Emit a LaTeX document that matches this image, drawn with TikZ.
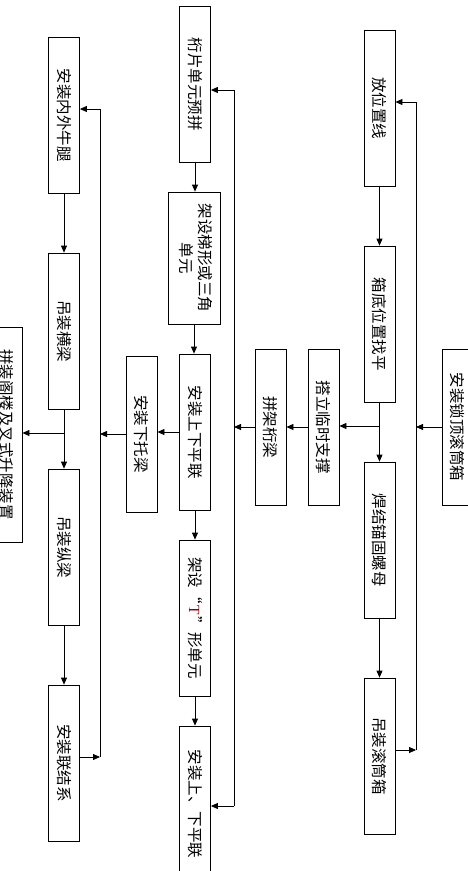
\documentclass[tikz,border=0pt]{standalone}
\usepackage{fontspec}
\setmainfont{Noto Sans CJK SC}
\newfontfamily\latinserif{Liberation Serif}
\usetikzlibrary{arrows.meta}
\newcommand{\vtext}[1]{\rotatebox{-90}{#1}}

\begin{document}
\begin{tikzpicture}[x=1pt,y=-1pt,>={Triangle[length=7pt,width=6pt]},line width=0.8pt,
  stepbox/.style={draw,line width=0.8pt,minimum width=31pt,minimum height=156pt,inner sep=0pt,
    font=\fontsize{15.5}{17.5}\selectfont}]

\useasboundingbox (0,0) rectangle (467,871);

%first column (right)
\node[stepbox] (fwzx) at (379.5,108) {\vtext{放位置线}};
\node[stepbox] (xdzp) at (379.5,324) {\vtext{箱底位置找平}};
\node[stepbox] (hjlm) at (379.5,540) {\vtext{焊结锚固螺母}};
\node[stepbox] (dzgx) at (379.5,756) {\vtext{吊装滚筒箱}};
\node[stepbox] (azsd) at (457.5,427) {\vtext{安装锁顶滚筒箱}};

%temporary support and truss
\node[stepbox] (dlzc) at (323.5,427) {\vtext{搭立临时支撑}};
\node[stepbox] (pjhl) at (270.5,427) {\vtext{拼架桁梁}};

%second column
\node[stepbox] (hpyp) at (195,84) {\vtext{桁片单元预拼}};
\node[stepbox,minimum width=52pt,minimum height=132pt] (jstx) at (194,258)
  {\vtext{\begin{tabular}{@{}c@{}}架设梯形或三角\\单元\end{tabular}}};
\node[stepbox] (azpl) at (195,432) {\vtext{安装上下平联}};
\node[stepbox] (jsdy) at (195,618) {\vtext{架设“\hspace{0.15em}{\latinserif\color{red!55!black}T}\hspace{0.1em}”形单元}};
\node[stepbox] (azpx) at (195,804) {\vtext{安装上、下平联}};
\node[stepbox] (axtl) at (141.5,434) {\vtext{安装下托梁}};

%third column (left)
\node[stepbox] (nwnt) at (64,115) {\vtext{安装内外牛腿}};
\node[stepbox] (dzhl) at (64,331) {\vtext{吊装横梁}};
\node[stepbox] (dzzl) at (64,547) {\vtext{吊装纵梁}};
\node[stepbox] (azlj) at (64,763) {\vtext{安装联结系}};
\node[stepbox,minimum height=215pt] (pjgl) at (6.5,434.5) {\vtext{拼装阁楼及叉式升降装置}};

%return lines
\coordinate (aT) at (416,102);
\coordinate (aB) at (416,750);
\coordinate (bT) at (234,90);
\coordinate (bB) at (234,806);
\coordinate (cT) at (100,109);
\coordinate (cB) at (100,757);
\coordinate (j1) at (379.5,426);
\coordinate (j2) at (64,433);

%arrows of first column
\draw[->] (fwzx) -- (xdzp);
\draw (xdzp) -- (j1);
\draw[->] (j1) -- (hjlm);
\draw[->] (hjlm) -- (dzgx);
\draw[->] (j1) -- (j1 -| dlzc.east);
\draw[->] (dlzc) -- (pjhl);
\draw[->] (pjhl.west) -- (pjhl.west -| bT);
\draw[->] (dzgx.east |- aB) -- (aB);
\draw[->] (aB) -- (aT) -- (aT -| fwzx.east);
\draw[->] (azsd.west) -- (azsd.west -| aT);

%arrows of second column
\draw[->] (hpyp.south) -- (hpyp.south |- jstx.north);
\draw[->] (jstx.south) -- (jstx.south |- azpl.north);
\draw[->] (azpl) -- (jsdy);
\draw[->] (jsdy) -- (azpx);
\draw[->] (azpl.west) -- (azpl.west -| axtl.east);
\draw[->] (axtl.west) -- (axtl.west -| cT);
\draw (bT) -- (bB);
\draw[->] (bT) -- (bT -| hpyp.east);
\draw[->] (bB) -- (bB -| azpx.east);

%arrows of third column
\draw[->] (nwnt) -- (dzhl);
\draw (dzhl) -- (j2);
\draw[->] (j2) -- (dzzl);
\draw[->] (j2) -- (j2 -| pjgl.east);
\draw[->] (dzzl) -- (azlj);
\draw (cT) -- (cB);
\draw[->] (cT) -- (cT -| nwnt.east);
\draw[->] (azlj.east |- cB) -- (cB);

\end{tikzpicture}
\end{document}
